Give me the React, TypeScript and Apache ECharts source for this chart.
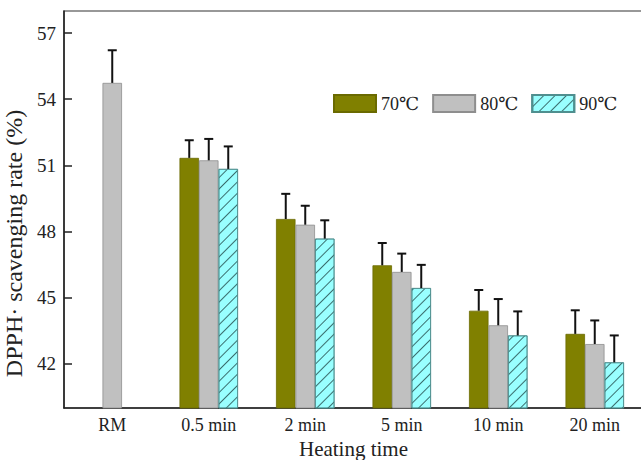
import React, { useEffect, useRef } from "react";
import * as echarts from "echarts";

const categories = ["RM", "0.5 min", "2 min", "5 min", "10 min", "20 min"];
const seriesNames = ["70℃", "80℃", "90℃"];
const values70 = [null, 51.34, 48.57, 46.47, 44.41, 43.36];
const values80 = [54.74, 51.23, 48.31, 46.17, 43.75, 42.9];
const values90 = [null, 50.84, 47.68, 45.44, 43.29, 42.07];
const err70 = [null, 0.8, 1.14, 1.01, 0.94, 1.07];
const err80 = [1.48, 0.97, 0.86, 0.83, 1.19, 1.07];
const err90 = [null, 1.02, 0.83, 1.05, 1.09, 1.22];
const yTicks = [42, 45, 48, 51, 54, 57];

const FONT = "'Liberation Serif', 'Times New Roman', 'DejaVu Serif', serif";
const BAR_W = 19.5;

export default function App() {
  const ref = useRef<HTMLDivElement>(null);
  useEffect(() => {
    document.body.style.margin = "0";
    const chart = echarts.init(ref.current!, null, { renderer: "svg" });
    const vals = [values70, values80, values90];
    const errs = [err70, err80, err90];
    const offsets = [-BAR_W, 0, BAR_W];
    const errData: any[] = [];
    vals.forEach((arr, s) => {
      arr.forEach((v, i) => {
        if (v != null && errs[s][i] != null) errData.push([i, v, errs[s][i], offsets[s]]);
      });
    });
    const barStyles = [
      { color: "#808000", borderColor: "#6a6a00", borderWidth: 0.8 },
      { color: "#c0c0c0", borderColor: "#8e8e8e", borderWidth: 0.8 },
      {
        color: "#99ffff",
        borderColor: "#4f8f8f",
        borderWidth: 0.8,
        decal: {
          symbol: "rect",
          symbolSize: 1,
          color: "#3a6e6e",
          dashArrayX: [1, 0],
          dashArrayY: [1, 7],
          rotation: -Math.PI / 4,
        },
      },
    ];
    chart.setOption({
      animation: false,
      backgroundColor: "#ffffff",
      textStyle: { fontFamily: FONT },
      grid: {
        left: 64,
        right: -2,
        top: 11,
        bottom: 52,
        outerBoundsMode: "none",
        containLabel: false,
        show: true,
        borderColor: "#333",
        borderWidth: 1.2,
      },
      legend: {
        data: seriesNames,
        icon: "rect",
        left: 328,
        top: 89,
        itemWidth: 42,
        itemHeight: 17,
        itemGap: 13,
        textStyle: { fontFamily: FONT, fontSize: 18, color: "#222" },
      },
      xAxis: {
        type: "category",
        data: categories,
        name: "Heating time",
        nameLocation: "middle",
        nameGap: 27,
        nameTextStyle: { fontFamily: FONT, fontSize: 21, color: "#222" },
        axisLine: { lineStyle: { color: "#222", width: 1.5 } },
        axisTick: { inside: true, length: 4, lineStyle: { color: "#222", width: 1.5 } },
        axisLabel: { fontFamily: FONT, fontSize: 18, color: "#222", margin: 8 },
      },
      yAxis: {
        type: "value",
        min: 40,
        max: 58,
        name: "DPPH· scavenging rate (%)",
        nameLocation: "middle",
        nameGap: 31,
        nameTextStyle: { fontFamily: FONT, fontSize: 24, color: "#222", padding: [0, 68, 0, 0] },
        splitLine: { show: false },
        axisLine: { show: true, lineStyle: { color: "#222", width: 1.5 } },
        axisTick: { show: true, inside: true, length: 8, customValues: yTicks, lineStyle: { color: "#222", width: 1.5 } },
        axisLabel: { fontFamily: FONT, fontSize: 19, color: "#222", margin: 8, customValues: yTicks },
      },
      series: [
        ...seriesNames.map((name, s) => ({
          name,
          type: "bar",
          data: vals[s],
          barWidth: BAR_W,
          barGap: "0%",
          itemStyle: barStyles[s],
        })),
        {
          type: "custom",
          name: "err",
          z: 5,
          data: errData,
          renderItem: (params: any, api: any) => {
            const c = api.value(0);
            const v = api.value(1);
            const e = api.value(2);
            const off = api.value(3);
            const p0 = api.coord([c, v]);
            const p1 = api.coord([c, v + e]);
            const x = p0[0] + off;
            const style = { stroke: "#111", lineWidth: 2 };
            return {
              type: "group",
              children: [
                { type: "line", shape: { x1: x, y1: p0[1], x2: x, y2: p1[1] }, style },
                { type: "line", shape: { x1: x - 4.5, y1: p1[1], x2: x + 4.5, y2: p1[1] }, style },
              ],
            };
          },
        },
      ],
    });
    return () => chart.dispose();
  }, []);
  return <div ref={ref} style={{ width: 641, height: 460 }} />;
}
